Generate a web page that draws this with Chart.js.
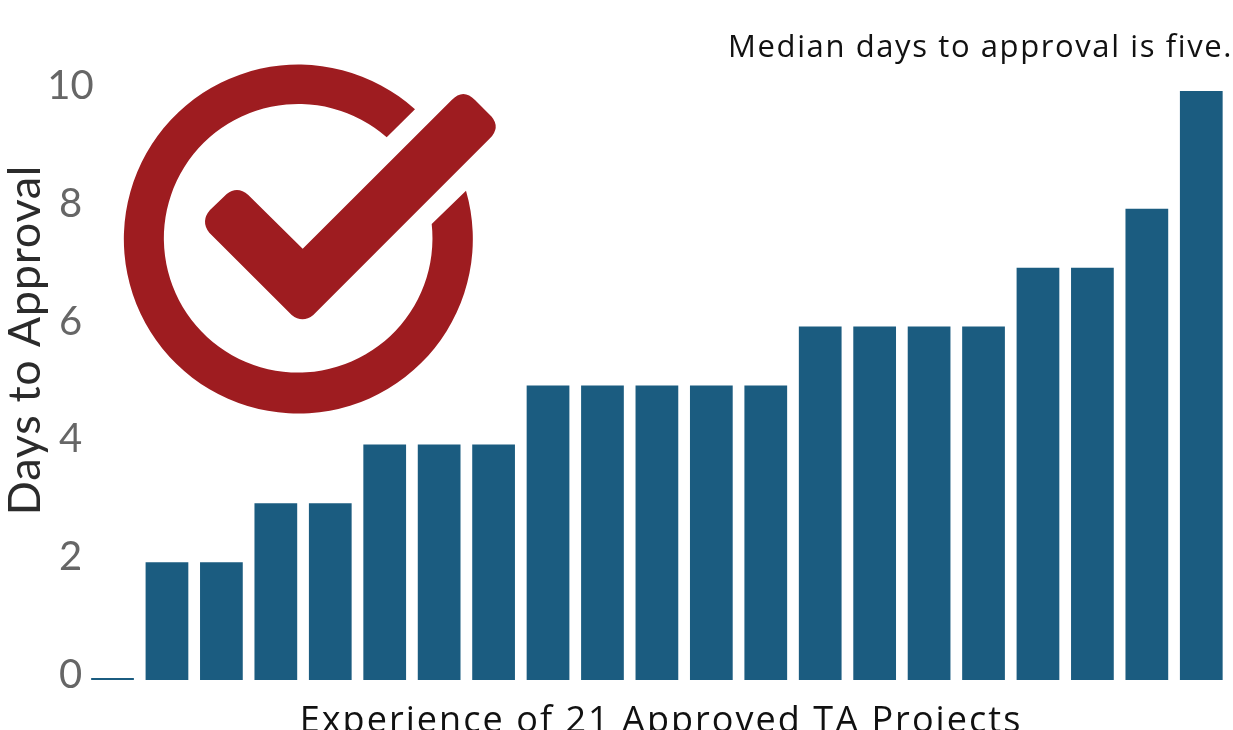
<!DOCTYPE html>
<html lang="en">
<head>
  <meta charset="UTF-8" />
  <title>Days to Approval</title>
  <style>
    body { margin: 0; background: #fff; }
    canvas { display: block; }
  </style>
</head>
<body>
  <canvas id="chart" width="1233" height="730"></canvas>

  <script src="https://cdn.jsdelivr.net/npm/chart.js"></script>
  <script>
    const projects = ["1", "2", "3", "4", "5", "6", "7", "8", "9", "10", "11", "12", "13", "14", "15", "16", "17", "18", "19", "20", "21"];
    const daysToApproval = [0, 2, 2, 3, 3, 4, 4, 4, 5, 5, 5, 5, 5, 6, 6, 6, 6, 7, 7, 8, 10];
    const yTicks = [0, 2, 4, 6, 8, 10];
    const noteText = "Median days to approval is five.";
    const xTitle = "Experience of 21 Approved TA Projects";
    const yTitle = "Days to Approval";

    // Check mark badge
    const ring = new Path2D("M415,109.3 A174.5,174.5 0 1 0 466,190.7 L431.7,224 A134.3,134.3 0 1 1 386.7,137.3 Z");
    const tick = new Path2D("M302.7,248.7 L451.7,100 Q463.3,88 475,100 L491.7,116.7 Q500.5,127.5 490,138.3 L313.3,315 Q302.5,323.6 291.7,315 L209.3,232.7 Q200.3,221.3 210,210 L226.7,194 Q237.5,185.5 248.3,195 Z");

    const annotations = {
      id: "annotations",
      afterDraw(chart) {
        const ctx = chart.ctx;
        ctx.save();
        ctx.fillStyle = "#9e1c20";
        ctx.fill(ring);
        ctx.fill(tick);

        ctx.textBaseline = "middle";
        ctx.fillStyle = "#111";
        ctx.font = "31px 'Open Sans'";
        ctx.letterSpacing = "1.6px";
        ctx.textAlign = "right";
        ctx.fillText(noteText, 1233, 48);

        ctx.font = "36px 'Open Sans'";
        ctx.letterSpacing = "2.05px";
        ctx.textAlign = "center";
        ctx.fillText(xTitle, 661, 722);

        // y title sits higher than the plot centre in the original
        ctx.textBaseline = "alphabetic";
        ctx.letterSpacing = "0.7px";
        ctx.fillStyle = "#2b2b2b";
        ctx.font = "45px Lato";
        ctx.translate(40, 340);
        ctx.rotate(-Math.PI / 2);
        ctx.fillText(yTitle, 0, 0);
        ctx.restore();
      }
    };

    new Chart(document.getElementById("chart"), {
      type: "bar",
      data: {
        labels: projects,
        datasets: [{
          data: daysToApproval,
          backgroundColor: "#1b5c80",
          categoryPercentage: 0.785,
          barPercentage: 1,
          minBarLength: 2
        }]
      },
      options: {
        responsive: false,
        animation: false,
        layout: { autoPadding: false, padding: { top: 91, right: 4.5, bottom: 0, left: 0 } },
        plugins: { legend: { display: false }, tooltip: { enabled: false } },
        scales: {
          x: {
            grid: { display: false },
            border: { display: false },
            ticks: { display: false },
            afterFit(scale) { scale.height = 50; }
          },
          y: {
            min: 0,
            max: 10,
            afterFit(scale) { scale.width = 85.3; },
            afterBuildTicks(scale) { scale.ticks = yTicks.map(v => ({ value: v })); },
            grid: { display: false },
            border: { display: false },
            ticks: {
              color: "#666",
              font: { family: "Lato", size: 40 },
              // mirror so "10" is not clipped at the axis edge
              mirror: true,
              crossAlign: "center",
              padding: -38,
              labelOffset: -5
            }
          }
        }
      },
      plugins: [annotations]
    });
  </script>
</body>
</html>
